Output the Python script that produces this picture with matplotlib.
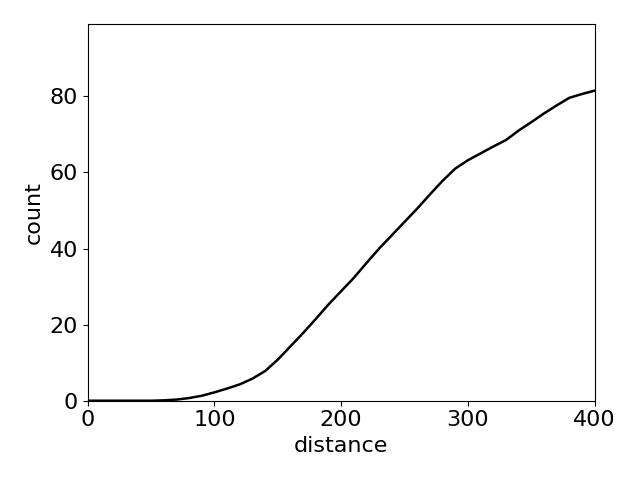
import matplotlib
matplotlib.use("Agg")
import matplotlib.pyplot as plt

distance = [0, 10, 20, 30, 40, 50, 60, 70, 80, 90, 100, 110, 120, 130, 140, 150,
            160, 170, 180, 190, 200, 210, 220, 230, 240, 250, 260, 270, 280, 290,
            300, 310, 320, 330, 340, 350, 360, 370, 380, 390, 400]
count = [0, 0, 0, 0, 0, 0, 0.1, 0.3, 0.7, 1.3, 2.2, 3.2, 4.3, 5.8, 7.8, 10.8,
         14.3, 17.8, 21.5, 25.3, 28.8, 32.3, 36.2, 40.0, 43.5, 47.0, 50.5, 54.2,
         57.8, 61.0, 63.2, 65.0, 66.8, 68.5, 71.0, 73.2, 75.5, 77.6, 79.6, 80.6, 81.5]

plt.rcParams['font.size'] = 16
fig, ax = plt.subplots(figsize=(6.4, 4.8), dpi=100)
ax.plot(distance, count, color='black', linewidth=1.8)
ax.set_xlim(0, 400)
ax.set_ylim(0, 99)
ax.set_xlabel('distance')
ax.set_ylabel('count')
fig.tight_layout()
fig.savefig('out.png')
